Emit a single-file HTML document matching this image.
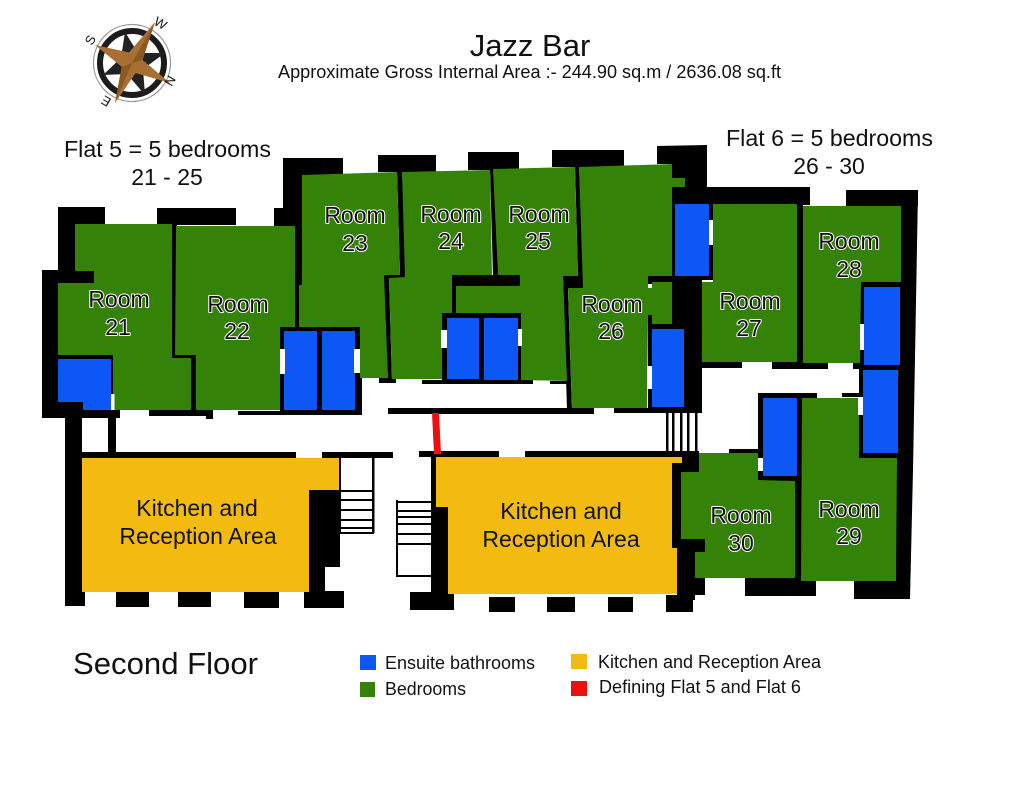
<!DOCTYPE html>
<html><head><meta charset="utf-8"><title>Jazz Bar</title>
<style>
html,body{margin:0;padding:0;background:#fff}
svg{display:block}
text{font-family:"Liberation Sans",sans-serif;fill:#111}
.r{font-size:23px;text-anchor:middle;fill:#111;stroke:#fff;stroke-width:2px;paint-order:stroke;stroke-linejoin:round}
.k{font-size:23px;text-anchor:middle}
.g{fill:#358209}.b{fill:#0d57f5}.y{fill:#f3bb10}.w{fill:#fff}
</style></head><body>
<svg width="1024" height="791" viewBox="0 0 1024 791" xmlns="http://www.w3.org/2000/svg">
<rect width="1024" height="791" fill="#fff"/>

<!-- compass -->
<g>
<circle cx="132" cy="63" r="38.5" fill="none" stroke="#999" stroke-width="1.2"/>
<circle cx="132" cy="63" r="32" fill="#fff" stroke="#1c1c1c" stroke-width="6"/>
<polygon points="125,32 138,53 165,53 143,69 145,95 127,74 103,75 121,58" fill="#222"/>
<polygon points="95,45 129,52.500 155,22 142.600,60 170,83 135.600,73 115,103 121.700,66.800" fill="#a86f33"/>
<polygon points="95,45 132,63 155,22 142.600,60 132,63 115,103 121.700,66.800 132,63" fill="#7a4a1c" opacity=".6"/>
<text x="92" y="46" font-size="13" transform="rotate(-60 92 46)">S</text>
<text x="153" y="24" font-size="13" transform="rotate(30 153 24)">W</text>
<text x="166" y="84" font-size="13" transform="rotate(120 170 80)">N</text>
<text x="118" y="107" font-size="13" transform="rotate(210 114 104)">E</text>
</g>

<!-- titles -->
<text x="530" y="56" font-size="31" text-anchor="middle">Jazz Bar</text>
<text x="278" y="78" font-size="18" textLength="503" lengthAdjust="spacingAndGlyphs">Approximate Gross Internal Area :- 244.90 sq.m / 2636.08 sq.ft</text>
<text x="64" y="157" font-size="23" textLength="207" lengthAdjust="spacingAndGlyphs">Flat 5 = 5 bedrooms</text>
<text x="167" y="185" font-size="23" text-anchor="middle">21 - 25</text>
<text x="726" y="146" font-size="23" textLength="207" lengthAdjust="spacingAndGlyphs">Flat 6 = 5 bedrooms</text>
<text x="829" y="174" font-size="23" text-anchor="middle">26 - 30</text>

<!-- walls -->
<g fill="#000">
<rect x="42" y="270" width="16" height="148"/>
<rect x="58" y="207" width="47" height="17"/>
<rect x="58" y="207" width="17" height="66"/>
<rect x="58" y="271" width="36" height="12"/>
<rect x="42" y="410" width="78" height="8"/>
<rect x="149" y="410" width="60" height="6"/>
<rect x="206" y="410" width="7" height="9"/>
<rect x="238" y="411" width="124" height="4"/>
<rect x="65" y="418" width="17" height="188"/>
<rect x="65" y="592" width="20" height="14"/>
<rect x="108" y="415" width="8" height="40"/>
<rect x="82" y="452" width="214" height="6"/>
<rect x="322" y="452" width="71" height="6"/>
<rect x="116" y="592" width="33" height="15"/>
<rect x="178" y="592" width="33" height="15"/>
<rect x="244" y="592" width="35" height="16"/>
<rect x="309" y="490" width="31" height="77"/>
<rect x="309" y="560" width="16" height="35"/>
<rect x="304" y="591" width="40" height="17"/>
<rect x="157" y="208" width="79" height="17"/>
<rect x="283" y="158" width="60" height="17"/>
<rect x="283" y="158" width="19" height="60"/>
<rect x="274" y="208" width="26" height="18"/>
<rect x="295" y="210" width="7" height="120"/>
<rect x="172" y="224" width="5" height="136"/>
<rect x="172" y="273" width="17" height="10"/>
<rect x="172" y="355" width="24" height="5"/>
<rect x="191" y="355" width="5" height="58"/>
<rect x="283" y="273" width="34" height="12"/>
<rect x="58" y="355" width="56" height="60"/>
<rect x="280" y="327" width="80" height="88"/>
<rect x="358" y="375" width="4" height="40"/>
<rect x="378" y="155" width="58" height="17"/>
<rect x="468" y="152" width="51" height="18"/>
<rect x="552" y="150" width="72" height="17"/>
<polygon points="657,146 707,145 707,190 672,190 672,164 657,164"/>
<polygon points="397,170 402,170 407,278 389,278 392,382 388,382 383,274 400,274"/>
<polygon points="490,168 494,168 499,277 493,277"/>
<polygon points="575,165 579,165 584,290 568,290 572,410 567,410 563,276 578,276"/>
<rect x="379" y="378" width="17" height="5"/>
<rect x="452" y="275" width="68" height="11"/>
<rect x="452" y="275" width="4" height="40"/>
<rect x="442" y="313" width="79" height="71"/>
<rect x="422" y="380" width="111" height="4"/>
<rect x="550" y="381" width="18" height="3"/>
<rect x="388" y="408" width="206" height="6"/>
<rect x="614" y="408" width="88" height="5"/>
<rect x="648" y="276" width="24" height="6"/>
<rect x="648" y="276" width="4" height="8"/>
<rect x="648" y="315" width="54" height="98"/>
<rect x="672" y="187" width="41" height="93"/>
<rect x="672" y="187" width="138" height="18"/>
<rect x="672" y="280" width="30" height="133"/>
<rect x="702" y="362" width="40" height="6"/>
<rect x="772" y="362" width="56" height="7"/>
<rect x="797" y="190" width="6" height="179"/>
<rect x="846" y="190" width="72" height="16"/>
<polygon points="900,190 918,190 913,470 910,599 895,599 896,458 900,300"/>
<rect x="859" y="282" width="42" height="6"/>
<rect x="859" y="282" width="5" height="176"/>
<rect x="853" y="362" width="10" height="7"/>
<rect x="859" y="365" width="41" height="5"/>
<rect x="859" y="453" width="40" height="6"/>
<rect x="758" y="393" width="59" height="5"/>
<rect x="842" y="393" width="18" height="4"/>
<rect x="758" y="393" width="43" height="88"/>
<rect x="795" y="393" width="7" height="190"/>
<rect x="729" y="449" width="30" height="4"/>
<rect x="419" y="451" width="80" height="6"/>
<rect x="525" y="451" width="174" height="6"/>
<rect x="672" y="451" width="27" height="21"/>
<rect x="672" y="451" width="9" height="97"/>
<rect x="677" y="539" width="18" height="61"/>
<rect x="680" y="539" width="25" height="13"/>
<rect x="695" y="578" width="10" height="17"/>
<rect x="666" y="595" width="27" height="17"/>
<rect x="745" y="578" width="71" height="18"/>
<rect x="854" y="580" width="56" height="19"/>
<rect x="431" y="451" width="5" height="60"/>
<rect x="431" y="507" width="17" height="90"/>
<rect x="410" y="592" width="44" height="18"/>
<rect x="489" y="597" width="26" height="15"/>
<rect x="547" y="597" width="28" height="15"/>
<rect x="608" y="597" width="25" height="15"/>
</g>

<!-- stairs -->
<g fill="#000">
<rect x="339" y="458" width="2" height="75"/><rect x="372" y="458" width="2.500" height="75"/>
<rect x="339" y="490" width="35" height="2"/><rect x="339" y="499" width="35" height="2"/>
<rect x="339" y="509" width="35" height="2"/><rect x="339" y="519" width="35" height="2"/>
<rect x="339" y="527" width="35" height="2"/><rect x="339" y="532" width="35" height="2"/>
<rect x="396" y="500" width="2" height="77"/>
<rect x="396" y="501" width="35" height="2"/><rect x="396" y="510" width="35" height="2"/>
<rect x="396" y="516" width="35" height="2"/><rect x="396" y="523" width="35" height="2"/>
<rect x="396" y="533" width="35" height="2"/><rect x="396" y="543" width="35" height="2"/>
<rect x="396" y="575" width="35" height="2"/>
<rect x="666" y="412" width="2.500" height="40"/><rect x="672" y="412" width="2.500" height="40"/>
<rect x="680" y="412" width="2.500" height="40"/><rect x="687" y="412" width="2.500" height="40"/>
<rect x="695" y="412" width="2.500" height="40"/>
</g>

<!-- rooms -->
<g class="g">
<polygon points="75,224 172,224 172,358 191,358 191,410 113,410 113,355 58,355 58,283 94,283 94,271 75,271"/>
<polygon points="176,226 295,226 295,327 280,327 280,410 196,410 196,355 175,355"/>
<polygon points="302,175 397,172 400,275 384,275 388,378 360,378 360,327 299,327 299,285 302,285"/>
<polygon points="402,172 490,170 492,275 452,275 452,313 442,313 442,379 392,379 389,278 405,277"/>
<polygon points="493,169 575,167 578,276 563,276 567,381 521,380 521,313 456,313 456,286 520,286 520,275 498,275"/>
<polygon points="579,167 672,164 672,178 685,178 685,187 672,187 672,276 648,276 648,315 647,408 572,408 568,288 583,288"/>
<rect x="648" y="288" width="24" height="27"/>
<rect x="652" y="282" width="20" height="42"/>
<polygon points="713,204 797,204 797,362 702,362 702,282 713,282"/>
<polygon points="803,206 901,206 901,282 861,282 860,363 803,363"/>
<polygon points="802,398 859,398 859,458 897,458 896,581 801,581"/>
<polygon points="699,453 758,453 758,480 795,481 795,578 695,578 695,552 705,552 705,539 681,539 681,472 699,472"/>
</g>
<g class="w">
<rect x="817" y="390" width="25" height="7"/>
</g>
<!-- kitchens -->
<g class="y">
<polygon points="82,458 339,458 339,490 309,490 309,592 82,592"/>
<polygon points="436,457 682,457 682,463 672,463 672,548 677,548 677,594 448,594 448,507 436,507"/>
</g>
<!-- bathrooms -->
<g class="b">
<polygon points="58,359 111,359 111,410 83,410 83,402 58,402"/>
<rect x="284" y="331" width="33" height="79"/>
<rect x="322" y="331" width="33" height="79"/>
<rect x="447" y="318" width="32" height="61"/>
<rect x="484" y="318" width="34" height="62"/>
<rect x="652" y="329" width="32" height="78"/>
<rect x="675" y="204" width="34" height="72"/>
<rect x="864" y="287" width="36" height="78"/>
<rect x="863" y="370" width="35" height="83"/>
<rect x="763" y="398" width="34" height="78"/>
</g>
<!-- doors -->
<g class="w">
<rect x="111" y="394" width="3.500" height="16"/>
<rect x="280" y="349" width="5" height="25"/>
<rect x="354" y="349" width="6" height="24"/>
<rect x="441" y="330" width="6" height="18"/>
<rect x="518" y="329" width="4" height="17"/>
<rect x="647" y="366" width="5" height="23"/>
<rect x="709" y="220" width="4" height="25"/>
<rect x="860" y="324" width="4" height="26"/>
<rect x="858" y="397" width="5" height="18"/>
<rect x="758" y="458" width="5" height="13"/>
</g>
<!-- red divider -->
<polygon points="432,413 439,413 441,454 434,454" fill="#f00f0f"/>

<!-- room labels -->
<text class="r" x="119" y="307">Room</text><text class="r" x="118" y="335">21</text>
<text class="r" x="238" y="312">Room</text><text class="r" x="237" y="339">22</text>
<text class="r" x="355" y="223">Room</text><text class="r" x="355" y="251">23</text>
<text class="r" x="451" y="222">Room</text><text class="r" x="451" y="249">24</text>
<text class="r" x="539" y="222">Room</text><text class="r" x="538" y="249">25</text>
<text class="r" x="612" y="312">Room</text><text class="r" x="611" y="339">26</text>
<text class="r" x="750" y="309">Room</text><text class="r" x="749" y="336">27</text>
<text class="r" x="849" y="249">Room</text><text class="r" x="849" y="277">28</text>
<text class="r" x="849" y="517">Room</text><text class="r" x="849" y="544">29</text>
<text class="r" x="741" y="523">Room</text><text class="r" x="741" y="551">30</text>

<text class="k" x="197" y="516">Kitchen and</text>
<text class="k" x="198" y="544">Reception Area</text>
<text class="k" x="561" y="519">Kitchen and</text>
<text class="k" x="561" y="547">Reception Area</text>

<text x="73" y="674" font-size="31" textLength="185" lengthAdjust="spacingAndGlyphs">Second Floor</text>

<!-- legend -->
<rect x="360" y="655" width="16" height="15" fill="#0d57f5"/>
<rect x="360" y="682" width="15" height="15" fill="#358209"/>
<rect x="571" y="654" width="16" height="15" fill="#f3bb10"/>
<rect x="571" y="681" width="16" height="15" fill="#f00f0f"/>
<text x="385" y="669" font-size="18" textLength="150" lengthAdjust="spacingAndGlyphs">Ensuite bathrooms</text>
<text x="385" y="695" font-size="18" textLength="81" lengthAdjust="spacingAndGlyphs">Bedrooms</text>
<text x="598" y="668" font-size="18" textLength="223" lengthAdjust="spacingAndGlyphs">Kitchen and Reception Area</text>
<text x="599" y="693" font-size="18" textLength="202" lengthAdjust="spacingAndGlyphs">Defining Flat 5 and Flat 6</text>
</svg>
</body></html>
